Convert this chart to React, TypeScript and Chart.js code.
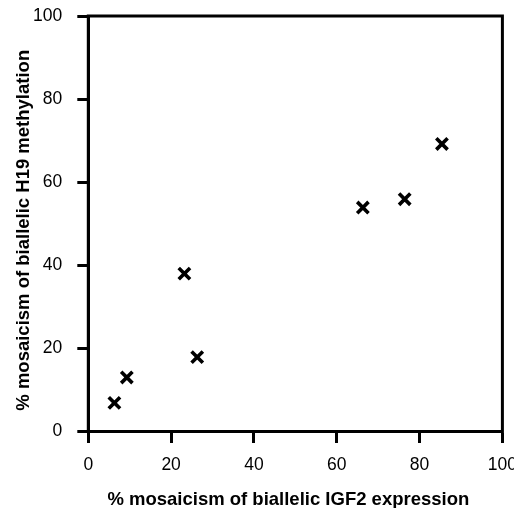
import React, { useEffect, useRef } from "react";
import { Chart, registerables } from "chart.js";

Chart.register(...registerables);

const igf2Expression = [6.3, 9.3, 23.2, 26.3, 66.3, 76.4, 85.4];
const h19Methylation = [6.9, 13.0, 38.0, 17.9, 53.9, 55.9, 69.2];
const tickValues = [0, 20, 40, 60, 80, 100];
const xTitle = "% mosaicism of biallelic IGF2 expression";
const yTitle = "% mosaicism of biallelic H19 methylation";

const FONT = "'Liberation Sans', Arial, Helvetica, sans-serif";

const frameAndTitles = {
  id: "frameAndTitles",
  afterDatasetsDraw(chart: any) {
    const { ctx, chartArea } = chart;
    const { left, top, right, bottom } = chartArea;
    ctx.save();
    ctx.strokeStyle = "#000";
    ctx.lineWidth = 3;
    ctx.strokeRect(left, top, right - left, bottom - top);
    ctx.fillStyle = "#000";
    ctx.font = "bold 18.5px " + FONT;
    ctx.textAlign = "center";
    ctx.textBaseline = "alphabetic";
    ctx.fillText(xTitle, (left + right) / 2 - 7, 505);
    ctx.translate(28.5, (top + bottom) / 2 + 6.5);
    ctx.rotate(-Math.PI / 2);
    ctx.fillText(yTitle, 0, 0);
    ctx.restore();
  },
};

export default function App() {
  const ref = useRef<HTMLCanvasElement>(null);
  useEffect(() => {
    document.body.style.margin = "0";
    const zeroPad = (s: any) => {
      s.paddingTop = 0;
      s.paddingBottom = 0;
      s.paddingLeft = 0;
      s.paddingRight = 0;
    };
    const chart = new Chart(ref.current!, {
      type: "scatter",
      data: {
        datasets: [
          {
            data: igf2Expression.map((x, i) => ({ x, y: h19Methylation[i] })),
            pointStyle: "crossRot",
            pointRadius: 8,
            pointBorderWidth: 3.6,
            borderColor: "#000",
            backgroundColor: "#000",
          },
        ],
      },
      options: {
        animation: false,
        responsive: false,
        maintainAspectRatio: false,
        layout: { padding: { top: 16, right: 10, left: 0, bottom: 0 } },
        plugins: { legend: { display: false }, tooltip: { enabled: false } },
        scales: {
          x: {
            type: "linear",
            min: 0,
            max: 100,
            afterBuildTicks: (s: any) => {
              s.ticks = tickValues.map((v) => ({ value: v }));
            },
            afterFit: (s: any) => {
              s.height = 76.5;
              zeroPad(s);
            },
            grid: { drawOnChartArea: false, drawTicks: true, tickLength: 11.5, tickWidth: 3, tickColor: "#000" },
            border: { display: true, color: "#000", width: 3 },
            ticks: { color: "#000", padding: 12, font: { family: FONT, size: 17.5 }, maxRotation: 0 },
            title: { display: false },
          },
          y: {
            type: "linear",
            min: 0,
            max: 100,
            afterBuildTicks: (s: any) => {
              s.ticks = tickValues.map((v) => ({ value: v }));
            },
            afterFit: (s: any) => {
              s.width = 88.3;
              zeroPad(s);
            },
            grid: { drawOnChartArea: false, drawTicks: true, tickLength: 11, tickWidth: 3, tickColor: "#000" },
            border: { display: true, color: "#000", width: 3 },
            ticks: { color: "#000", padding: 15, font: { family: FONT, size: 17.5 } },
            title: { display: false },
          },
        },
      },
      plugins: [frameAndTitles],
    } as any);
    return () => chart.destroy();
  }, []);
  return (
    <div style={{ width: 514, height: 508, background: "#fff" }}>
      <canvas ref={ref} width={514} height={508} style={{ display: "block" }} />
    </div>
  );
}
